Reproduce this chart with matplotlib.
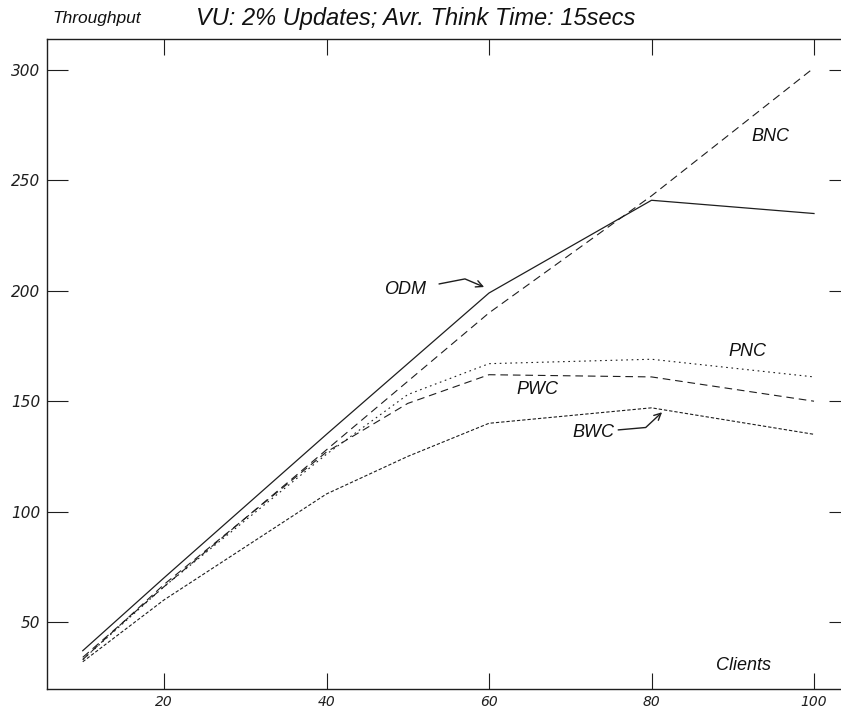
import matplotlib
matplotlib.use("Agg")
import matplotlib.pyplot as plt

# throughput vs number of clients for each scheme
clients = [10, 20, 40, 50, 60, 80, 100]
odm = [37, 70, 135, 167, 199, 241, 235]
bnc = [34, 66, 128, 159, 190, 243, 301]
pnc = [33, 66, 126, 153, 167, 169, 161]
pwc = [33, 67, 127, 149, 162, 161, 150]
bwc = [32, 60, 108, 125, 140, 147, 135]

x_ticks = [20, 40, 60, 80, 100]
y_ticks = [50, 100, 150, 200, 250, 300]

plt.rcParams['font.family'] = ['Liberation Sans', 'DejaVu Sans']
plt.rcParams['lines.scale_dashes'] = False

W, H = 841, 710
fig = plt.figure(figsize=(W / 100, H / 100), dpi=100)
# the frame runs a bit past the right edge of the canvas
ax = fig.add_axes([47 / W, 1 - 689 / H, (850 - 47) / W, (689 - 39) / H])
ax.set_xlim(5.6, 104.43)
ax.set_ylim(19.66, 314.04)

ink = '#1e1e1e'
ax.plot(clients, odm, color=ink, lw=0.9, ls='-')
ax.plot(clients, bnc, color=ink, lw=0.8, dashes=(5.8, 3.6))
ax.plot(clients, pnc, color=ink, lw=0.8, dashes=(1.2, 2.6))
ax.plot(clients, pwc, color=ink, lw=0.8, dashes=(5.5, 3.5))
ax.plot(clients, bwc, color=ink, lw=0.8, dashes=(2.4, 1.4))

lab = dict(fontsize=13, style='italic', color='#111', ha='center', va='center')
ax.text(94.6, 269.7, 'BNC', **lab)
ax.text(91.75, 172.3, 'PNC', **lab)
ax.text(66.0, 155.1, 'PWC', **lab)
ax.text(72.8, 136.0, 'BWC', **lab)
ax.text(49.7, 200.4, 'ODM', **lab)
ax.text(91.3, 30.1, 'Clients', **lab)

# hand-drawn style leader arrows
ax.annotate('', xy=(clients[4] - 0.6, odm[4] + 2.7), xytext=(53.85, 203.1),
            arrowprops=dict(arrowstyle='->', color=ink, lw=1.0,
                            connectionstyle='angle,angleA=11,angleB=-23,rad=0',
                            shrinkA=0, shrinkB=0, mutation_scale=12))
ax.annotate('', xy=(clients[5] + 1.3, bwc[5] - 2), xytext=(75.9, 137.0),
            arrowprops=dict(arrowstyle='->', color=ink, lw=1.0,
                            connectionstyle='angle,angleA=5,angleB=43,rad=0',
                            shrinkA=0, shrinkB=0, mutation_scale=12))

ax.set_xticks(x_ticks)
ax.set_yticks(y_ticks)
ax.tick_params(axis='x', direction='in', top=True, length=11.5, width=0.8,
               pad=4.5, labelsize=10, colors=ink)
ax.tick_params(axis='y', direction='in', right=True, length=15, width=0.8,
               pad=5, labelsize=11, colors=ink)
for t in ax.get_xticklabels() + ax.get_yticklabels():
    t.set_family('DejaVu Sans')
    t.set_style('oblique')
for s in ax.spines.values():
    s.set_linewidth(1.0)
    s.set_color(ink)

fig.text(52 / W, 1 - 18 / H, 'Throughput', fontsize=12.5, style='italic',
         ha='left', va='center', color='#111')
fig.text(416 / W, 1 - 18 / H, 'VU: 2% Updates; Avr. Think Time: 15secs',
         fontsize=17, style='italic', ha='center', va='center', color='#111')

fig.savefig('out.png', dpi=100)
